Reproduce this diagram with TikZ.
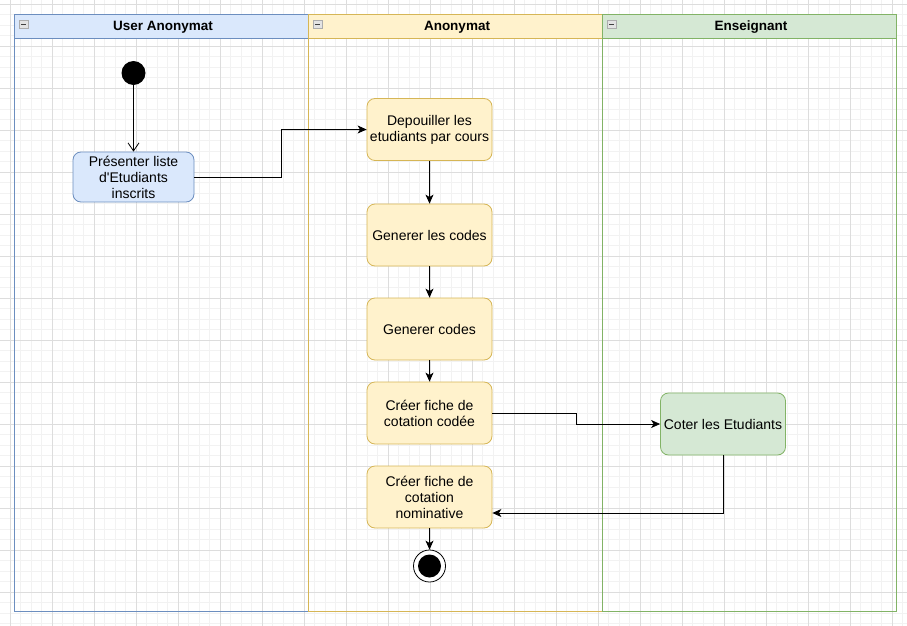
\documentclass[tikz,border=0pt]{standalone}
\usepackage{fontspec}
\setmainfont{Liberation Sans}
\usetikzlibrary{arrows.meta}

\definecolor{usrfill}{HTML}{DAE8FC}
\definecolor{usrline}{HTML}{6C8EBF}
\definecolor{anofill}{HTML}{FFF2CC}
\definecolor{anoline}{HTML}{D6B656}
\definecolor{ensfill}{HTML}{D5E8D4}
\definecolor{ensline}{HTML}{82B366}
\definecolor{gridminor}{HTML}{F2F2F2}
\definecolor{gridmajor}{HTML}{DDDDDD}

\tikzset{
  lanehead/.style={rectangle, minimum width=294pt, minimum height=24pt, inner sep=0pt,
    font=\fontsize{13.5}{16}\selectfont\bfseries, line width=0.8pt},
  act/.style={rectangle, rounded corners=8pt, minimum width=125pt, minimum height=62pt,
    inner sep=0pt, align=center, font=\fontsize{14}{16}\selectfont,
    draw=anoline, fill=anofill, line width=0.8pt},
  flow/.style={-{Stealth[length=9pt,width=8pt,inset=2.5pt]}, line width=0.8pt},
  startdot/.style={circle, fill=black, minimum size=24pt, inner sep=0pt},
  endring/.style={circle, draw=black, fill=white, minimum size=32pt, inner sep=0pt, line width=0.8pt},
  endcore/.style={circle, fill=black, minimum size=23pt, inner sep=0pt}
}

\begin{document}
\begin{tikzpicture}[x=1pt,y=-1pt]
\def\lanew{294}
\def\lanetop{14}
\def\lanebot{611}
\def\headh{24}

\useasboundingbox[fill=white] (0,0) rectangle (907,626);

% grid
\foreach \i in {0,...,87} \draw[gridminor, line width=0.6pt] ({-0.5+10.5*\i},0) -- ({-0.5+10.5*\i},626);
\foreach \j in {0,...,59} \draw[gridminor, line width=0.6pt] (0,{4+10.5*\j}) -- (907,{4+10.5*\j});
\foreach \i in {0,...,21} \draw[gridmajor, line width=0.6pt] ({10+42*\i},0) -- ({10+42*\i},626);
\foreach \j in {0,...,14} \draw[gridmajor, line width=0.6pt] (0,{4+42*\j}) -- (907,{4+42*\j});

% lanes
\foreach \x/\fc/\lc/\name/\txt in {14/usrfill/usrline/hdUser/User Anonymat,
    308/anofill/anoline/hdAnon/Anonymat,
    602/ensfill/ensline/hdEns/Enseignant} {
  \draw[draw=\lc, line width=0.8pt] (\x,\lanetop) rectangle ({\x+\lanew},\lanebot);
  \node[lanehead, fill=\fc, draw=\lc, anchor=north west] (\name) at (\x,\lanetop) {};
  \node at ({\x+\lanew/2+2},{\lanetop+\headh/2+1}) {\fontsize{13.5}{16}\selectfont\bfseries \txt};
  \draw[fill=gray!22, draw=gray!65, line width=0.5pt] ({\x+5},20) rectangle ({\x+14},28);
  \draw[black!75, line width=0.8pt] ({\x+7},24) -- ({\x+12},24);
}

% user anonymat
\node[startdot] (start) at (133.5,73) {};
\node[act, draw=usrline, fill=usrfill, minimum width=121pt, minimum height=50pt] (present) at (133.5,177) {Présenter liste\\d\textquotesingle Etudiants\\inscrits};

% anonymat
\node[act] (depouil) at (429.5,129.5) {Depouiller les\\etudiants par cours};
\node[act] (genlescodes) at (429.5,235) {Generer les codes};
\node[act] (gencodes) at (429.5,329) {Generer codes};
\node[act] (codee) at (429.5,413) {Créer fiche de\\cotation codée};
\node[act] (nomin) at (429.5,497) {Créer fiche de\\cotation\\nominative};
\node[endring] (finish) at (429.5,566) {};
\node[endcore] (finishdot) at (finish) {};

% enseignant
\node[act, draw=ensline, fill=ensfill] (coter) at (723,424) {Coter les Etudiants};

% connectors
\draw[-{Straight Barb[length=8pt,width=11pt]}, line width=0.8pt] (start) -- (present.north);
\draw[flow] (present.east) -- ++(87,0) |- (depouil.west);
\draw[flow] (depouil) -- (genlescodes);
\draw[flow] (genlescodes) -- (gencodes);
\draw[flow] (gencodes) -- (codee);
\draw[flow] (codee.east) -- ++(84,0) |- (coter.west);
\draw[flow] (coter.south) |- ([yshift=-16pt]nomin.east);
\draw[flow] (nomin) -- (finish);

\end{tikzpicture}
\end{document}
